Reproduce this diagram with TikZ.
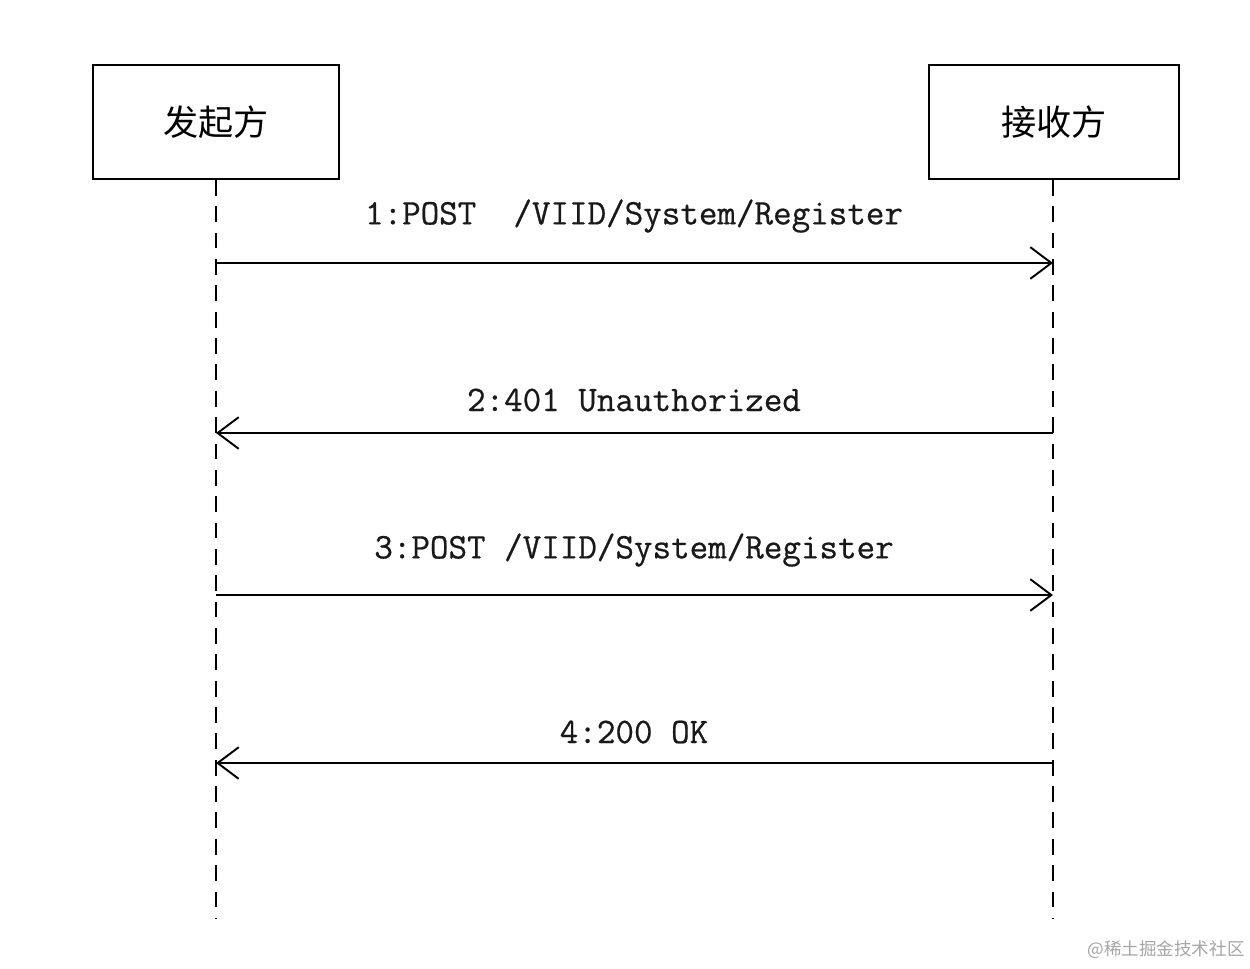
\documentclass[tikz,border=0pt]{standalone}
\usepackage{fontspec}
\usetikzlibrary{arrows.meta}
\newfontfamily\cjkfont{Noto Sans CJK SC}
\newfontfamily\msgfont[FakeBold=0.6]{Latin Modern Mono}
\begin{document}
\begin{tikzpicture}[x=0.02cm,y=-0.02cm,
  actor/.style={draw=black,line width=1.1pt,minimum width=246*0.02cm,minimum height=114*0.02cm,inner sep=0pt,font=\cjkfont\fontsize{20}{24}\selectfont},
  lifeline/.style={line width=1.1pt,dash pattern=on 9pt off 6pt},
  msg/.style={line width=1.1pt,-{Straight Barb[length=12pt,width=18pt,line width=1.1pt]}},
  msglabel/.style={font=\msgfont\fontsize{20.5}{24}\selectfont,text=black!90,inner sep=0pt,anchor=center}]
\useasboundingbox (0,0) rectangle (1250,968);
\fill[white] (0,0) rectangle (1250,968);
% actors
\node[actor] (A) at (216,122) {发起方};
\node[actor,minimum width=250*0.02cm] (B) at (1054,122) {接收方};
% lifeline ends
\coordinate (Aend) at (216,918);
\coordinate (Bend) at (1053,918);
\draw[lifeline] (A.south) -- (Aend);
\draw[lifeline] (B.south -| Bend) -- (Bend);
% message points
\coordinate (a1) at (216,263); \coordinate (b1) at (1053,263);
\coordinate (a2) at (216,433); \coordinate (b2) at (1053,433);
\coordinate (a3) at (216,595); \coordinate (b3) at (1053,595);
\coordinate (a4) at (216,763); \coordinate (b4) at (1053,763);
\draw[msg] (a1) -- (b1);
\draw[msg] (b2) -- (a2);
\draw[msg] (a3) -- (b3);
\draw[msg] (b4) -- (a4);
% labels
\node[msglabel] (l1) at (634,216) {1:POST\ \ /VIID/System/Register};
\node[msglabel] (l2) at (634,400) {2:401 Unauthorized};
\node[msglabel] (l3) at (634,550) {3:POST /VIID/System/Register};
\node[msglabel] (l4) at (634,732) {4:200 OK};
% watermark
\node[font=\cjkfont\fontsize{10}{12}\selectfont,text=black!35,anchor=east,inner sep=0pt] (wm) at (1245,950) {@稀土掘金技术社区};
\end{tikzpicture}
\end{document}
